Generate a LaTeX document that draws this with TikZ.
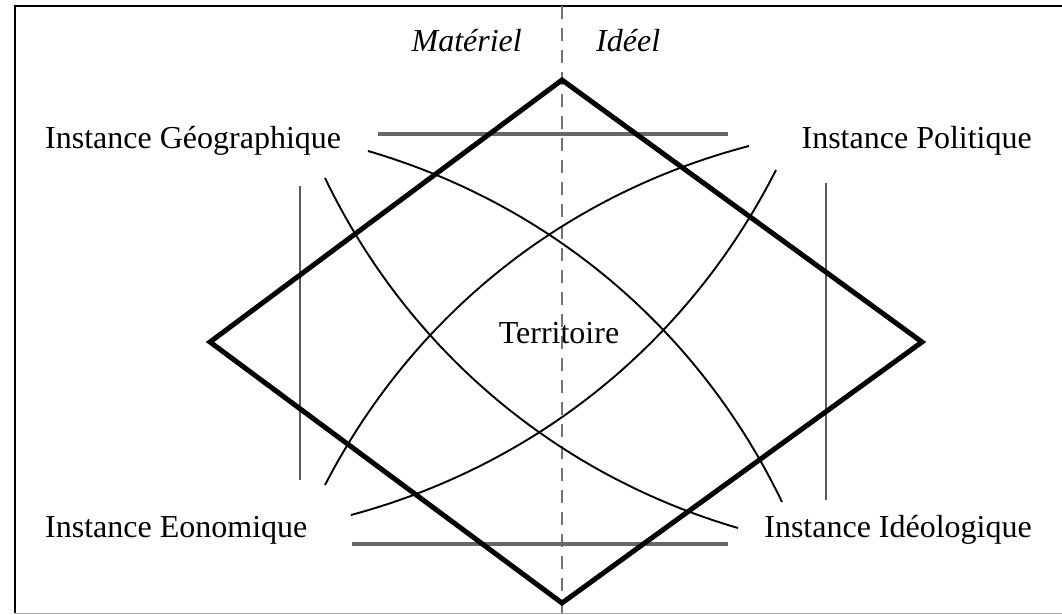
\documentclass[tikz,border=0pt]{standalone}
\usepackage{fontspec}
\setmainfont{Liberation Serif}
\usepackage{tikz}

\begin{document}
\begin{tikzpicture}[
    x=1pt, y=-1pt,
    instance/.style={
        font=\fontsize{32}{38}\selectfont,
        inner sep=0pt
    },
    axetexte/.style={
        font=\fontsize{32}{38}\selectfont\itshape,
        inner sep=0pt
    },
    losange/.style={
        line width=5pt,
        line join=miter
    },
    courbe/.style={
        line width=1.9pt,
        looseness=0.9
    },
    barre/.style={
        line width=3.2pt,
        black!60
    },
    montant/.style={
        line width=2pt,
        black!65
    },
    separation/.style={
        line width=2pt,
        black!55,
        dash pattern=on 13pt off 9pt
    }
]
    \useasboundingbox (0,0) rectangle (1062,615);
    % cadre
    \draw[line width=2.5pt] (1062,6) -- (15,6) -- (15,613);
    \draw[line width=1pt, black!35] (15,613) -- (1062,613);

    % axe materiel / ideel
    \coordinate (axehaut) at (562,6);
    \coordinate (axebas) at (562,615);
    \draw[separation] (axehaut) -- (axebas);

    % barres et montants
    \coordinate (bh1) at (378,134);
    \coordinate (bh2) at (728,134);
    \coordinate (bb1) at (352,544);
    \coordinate (bb2) at (728,544);
    \coordinate (mg1) at (300,186);
    \coordinate (mg2) at (300,480);
    \coordinate (md1) at (826,183);
    \coordinate (md2) at (826,500);
    \draw[barre] (bh1) -- (bh2);
    \draw[barre] (bb1) -- (bb2);
    \draw[montant] (mg1) -- (mg2);
    \draw[montant] (md1) -- (md2);

    % courbes
    \coordinate (geo1) at (368,151);
    \coordinate (geo2) at (325,178);
    \coordinate (pol1) at (749,146);
    \coordinate (pol2) at (776,170);
    \coordinate (eco1) at (325,485);
    \coordinate (eco2) at (351,515);
    \coordinate (ideo1) at (782,502);
    \coordinate (ideo2) at (738,528);
    \draw[courbe] (geo1) to[bend left=24] (ideo1);
    \draw[courbe] (geo2) to[bend right=24] (ideo2);
    \draw[courbe] (pol1) to[bend right=24] (eco1);
    \draw[courbe] (pol2) to[bend left=24] (eco2);

    % losange
    \coordinate (haut) at (562,80);
    \coordinate (droite) at (922,342);
    \coordinate (bas) at (562,603);
    \coordinate (gauche) at (210,342);
    \draw[losange] (haut) -- (droite) -- (bas) -- (gauche) -- cycle;

    % textes
    \node[axetexte, anchor=base east] (mat) at (522,52) {Matériel};
    \node[axetexte, anchor=base west] (idl) at (596,52) {Idéel};
    \node[instance, anchor=base west] (geo) at (45,148) {Instance Géographique};
    \node[instance, anchor=base east] (pol) at (1032,148) {Instance Politique};
    \node[instance, anchor=base west] (eco) at (45,537) {Instance Eonomique};
    \node[instance, anchor=base east] (ideo) at (1032,537) {Instance Idéologique};
    \node[instance, anchor=base] (terr) at (559,343) {Territoire};
\end{tikzpicture}
\end{document}
